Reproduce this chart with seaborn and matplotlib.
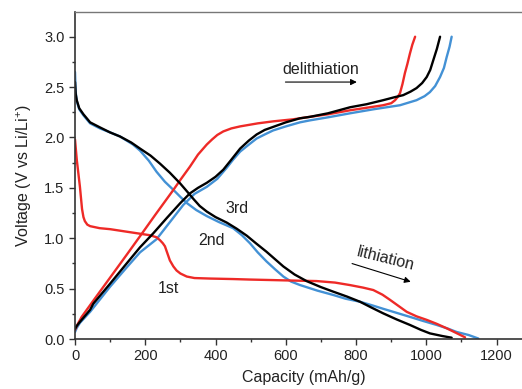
import numpy as np
import pandas as pd
import seaborn as sns
import matplotlib
matplotlib.use("Agg")
import matplotlib.pyplot as plt

# discharge (lithiation) curves
cap_1st_dis = [0, 5, 10, 14, 17, 20, 24, 28, 35, 43, 70, 100, 147, 185, 213, 232, 242, 250, 256, 263, 270, 280,
               289, 300, 318, 340, 384, 450, 498, 560, 620, 688, 740, 783, 820, 849, 875, 896, 920, 944, 972,
               1001, 1030, 1058, 1085, 1110]
volt_1st_dis = [1.98, 1.78, 1.63, 1.51, 1.40, 1.29, 1.21, 1.17, 1.135, 1.12, 1.10, 1.09, 1.065, 1.045, 1.03, 1.01,
                0.98, 0.95, 0.92, 0.85, 0.78, 0.72, 0.68, 0.65, 0.62, 0.605, 0.60, 0.595, 0.59, 0.585, 0.58, 0.575,
                0.56, 0.535, 0.51, 0.486, 0.44, 0.39, 0.33, 0.27, 0.225, 0.19, 0.15, 0.106, 0.06, 0.017]

cap_2nd_dis = [0, 2, 5, 12, 24, 43, 71, 100, 128, 165, 185, 210, 232, 256, 280, 300, 318, 345, 375, 410, 450,
               475, 498, 520, 545, 570, 593, 615, 640, 690, 735, 770, 811, 845, 877, 915, 953, 990, 1029, 1060,
               1086, 1120, 1148]
volt_2nd_dis = [2.65, 2.45, 2.36, 2.28, 2.22, 2.14, 2.09, 2.05, 2.01, 1.93, 1.87, 1.77, 1.66, 1.56, 1.48, 1.41,
                1.35, 1.28, 1.22, 1.16, 1.10, 1.03, 0.95, 0.86, 0.77, 0.69, 0.62, 0.57, 0.536, 0.48, 0.437, 0.40,
                0.37, 0.335, 0.30, 0.26, 0.22, 0.18, 0.14, 0.105, 0.07, 0.04, 0.005]

cap_3rd_dis = [0, 2, 5, 12, 24, 43, 71, 100, 128, 160, 185, 215, 242, 270, 299, 320, 337, 355, 375, 400, 432,
               460, 489, 515, 545, 570, 593, 625, 659, 700, 735, 775, 811, 845, 877, 915, 953, 985, 1010, 1045,
               1072]
volt_3rd_dis = [2.55, 2.43, 2.37, 2.29, 2.23, 2.15, 2.10, 2.05, 2.01, 1.95, 1.89, 1.82, 1.74, 1.65, 1.545, 1.46,
                1.39, 1.32, 1.265, 1.21, 1.155, 1.095, 1.025, 0.95, 0.866, 0.79, 0.72, 0.64, 0.575, 0.515, 0.47,
                0.42, 0.37, 0.31, 0.255, 0.195, 0.14, 0.09, 0.056, 0.03, 0.013]

# charge (delithiation) curves
cap_1st_chg = [0, 8, 19, 52, 100, 150, 185, 230, 280, 300, 327, 350, 375, 390, 405, 422, 445, 470, 520, 564, 620,
               669, 720, 783, 830, 877, 900, 911, 918, 925, 932, 939, 946, 953, 960, 968]
volt_1st_chg = [0.09, 0.15, 0.22, 0.38, 0.61, 0.85, 1.02, 1.24, 1.48, 1.58, 1.71, 1.83, 1.93, 1.98, 2.025, 2.06,
                2.09, 2.11, 2.14, 2.16, 2.18, 2.205, 2.23, 2.27, 2.295, 2.32, 2.34, 2.37, 2.40, 2.44, 2.53, 2.64,
                2.73, 2.83, 2.92, 3.0]

cap_2nd_chg = [0, 5, 14, 43, 100, 147, 185, 232, 270, 308, 340, 375, 405, 432, 450, 470, 495, 517, 540, 564,
               600, 640, 669, 720, 783, 850, 925, 972, 995, 1010, 1025, 1039, 1050, 1058, 1066, 1072]
volt_2nd_chg = [0.07, 0.11, 0.16, 0.27, 0.52, 0.71, 0.86, 0.99, 1.16, 1.33, 1.44, 1.51, 1.59, 1.70, 1.78, 1.86,
                1.93, 1.99, 2.03, 2.07, 2.11, 2.15, 2.17, 2.20, 2.24, 2.28, 2.32, 2.37, 2.41, 2.45, 2.51, 2.60,
                2.69, 2.80, 2.90, 3.0]

cap_3rd_chg = [0, 5, 14, 43, 52, 100, 147, 185, 223, 261, 300, 327, 350, 375, 400, 422, 445, 470, 495, 517,
               540, 564, 600, 640, 669, 720, 783, 830, 877, 910, 934, 955, 972, 988, 1001, 1011, 1020, 1030, 1039]
volt_3rd_chg = [0.10, 0.13, 0.17, 0.29, 0.35, 0.55, 0.75, 0.91, 1.05, 1.20, 1.35, 1.445, 1.50, 1.55, 1.61,
                1.68, 1.78, 1.89, 1.97, 2.03, 2.075, 2.105, 2.15, 2.19, 2.205, 2.24, 2.30, 2.33, 2.37, 2.40, 2.42,
                2.455, 2.49, 2.54, 2.60, 2.67, 2.77, 2.88, 3.0]

red = "#ee2a27"
blue = "#4391d5"

sns.set_style("ticks")
plt.rcParams['font.family'] = ['Liberation Sans', 'DejaVu Sans']
plt.rcParams['mathtext.fontset'] = 'custom'
plt.rcParams['mathtext.rm'] = 'Liberation Sans'
plt.rcParams['mathtext.it'] = 'Liberation Sans:italic'

fig = plt.figure(figsize=(5.22, 3.89), dpi=100)
ax = fig.add_axes([0.1437, 0.1285, 0.875, 0.8406])

curves = [
    (cap_2nd_dis, volt_2nd_dis, blue),
    (cap_2nd_chg, volt_2nd_chg, blue),
    (cap_1st_dis, volt_1st_dis, red),
    (cap_1st_chg, volt_1st_chg, red),
    (cap_3rd_dis, volt_3rd_dis, "black"),
    (cap_3rd_chg, volt_3rd_chg, "black"),
]
for cx, cy, col in curves:
    df = pd.DataFrame({"cap": cx, "volt": cy})
    sns.lineplot(data=df, x="cap", y="volt", sort=False, estimator=None, color=col, lw=1.7, ax=ax)

ax.set_xlim(0, 1300)
ax.set_ylim(0, 3.245)
ax.set_xticks([0, 200, 400, 600, 800, 1000, 1200])
ax.set_xticks(np.arange(100, 1300, 200), minor=True)
ax.set_yticks([0.0, 0.5, 1.0, 1.5, 2.0, 2.5, 3.0])
ax.set_yticks(np.arange(0.25, 3.25, 0.5), minor=True)
ax.set_yticklabels(["0.0", "0.5", "1.0", "1.5", "2.0", "2.5", "3.0"])

ax.tick_params(which="major", direction="out", length=4, width=1, colors="#333333", labelsize=10.5,
               labelcolor="#222222")
ax.tick_params(which="minor", direction="out", length=2.5, width=1, colors="#333333")
for side in ["left", "bottom"]:
    ax.spines[side].set_color("#333333")
    ax.spines[side].set_linewidth(1.2)
ax.spines["top"].set_color("#777777")
ax.spines["top"].set_linewidth(1.0)
ax.spines["right"].set_visible(False)

ax.set_xlabel("Capacity (mAh/g)", fontsize=11.5, color="#222222", labelpad=5)
ax.set_ylabel(r"Voltage (V vs Li/Li$^{+}$)", fontsize=11.5, color="#222222", labelpad=7)

# annotations
ax.text(589, 2.63, "delithiation", fontsize=11.5, color="#222222")
ax.annotate("", xy=(810, 2.55), xytext=(591, 2.55),
            arrowprops=dict(arrowstyle="-|>", color="black", lw=0.8, mutation_scale=9))
ax.text(885, 0.80, "lithiation", fontsize=11.5, color="#222222", rotation=-14, ha="center", va="center")
ax.annotate("", xy=(963, 0.56), xytext=(781, 0.757),
            arrowprops=dict(arrowstyle="-|>", color="black", lw=0.8, mutation_scale=9))
ax.text(460, 1.30, "3rd", fontsize=11.5, color="#222222", ha="center", va="center")
ax.text(389, 0.98, "2nd", fontsize=11.5, color="#222222", ha="center", va="center")
ax.text(266, 0.50, "1st", fontsize=11.5, color="#222222", ha="center", va="center")

fig.savefig("out.png", dpi=100)
